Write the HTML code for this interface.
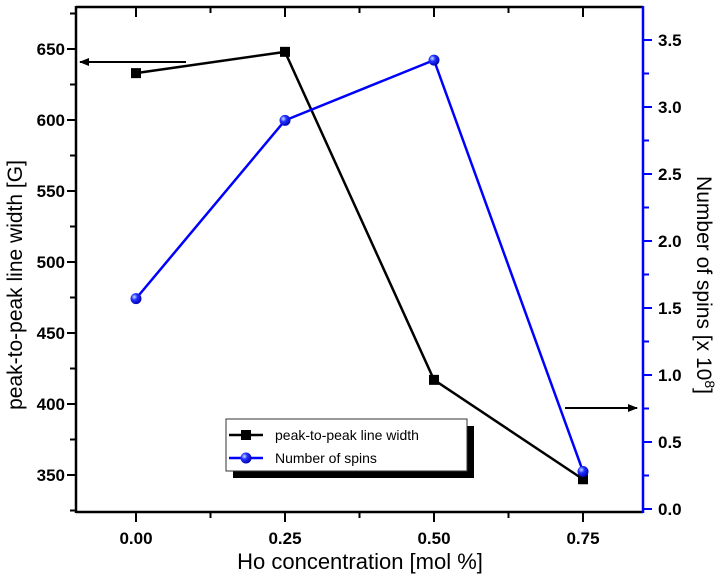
<!DOCTYPE html>
<html><head><meta charset="utf-8"><style>
html,body{margin:0;padding:0;background:#fff;}
svg{display:block;font-family:"Liberation Sans",Arial,sans-serif;}
</style></head><body>
<svg id="chart" width="724" height="575" viewBox="0 0 724 575">
<g id="g"></g>
</svg>
<script>
const categories = [0.00, 0.25, 0.50, 0.75];
const lineWidthValues = [633, 648, 417, 347];
const spinValues = [1.57, 2.90, 3.35, 0.28];
const xTickLabels = ["0.00", "0.25", "0.50", "0.75"];
const leftTickLabels = ["350", "400", "450", "500", "550", "600", "650"];
const rightTickLabels = ["0.0", "0.5", "1.0", "1.5", "2.0", "2.5", "3.0", "3.5"];

const NS = "http://www.w3.org/2000/svg";
const g = document.getElementById("g");
const L = 76, R = 643, T = 7, B = 512;
function xs(v){ return 136 + v * 596; }
function yl(v){ return 49 + (650 - v) * 1.42; }
function yr(v){ return 509 - v * 134; }
function mk(tag, attrs, parent){
  const e = document.createElementNS(NS, tag);
  for (const k in attrs) e.setAttribute(k, attrs[k]);
  (parent || g).appendChild(e);
  return e;
}
const defs = mk("defs", {});
const grad = mk("radialGradient", {id:"ball", cx:"0.35", cy:"0.35", r:"0.7"}, defs);
mk("stop", {offset:"0", "stop-color":"#cfe0ff"}, grad);
mk("stop", {offset:"0.4", "stop-color":"#2030ff"}, grad);
mk("stop", {offset:"1", "stop-color":"#0000b0"}, grad);
const mark = mk("marker", {id:"ah", markerWidth:"10", markerHeight:"8", refX:"9", refY:"4", orient:"auto", markerUnits:"userSpaceOnUse"}, defs);
mk("path", {d:"M0,0 L10,4 L0,8 z", fill:"#000"}, mark);

let e;
e = mk("line", {x1:L, y1:T, x2:R, y2:T, stroke:"#000", "stroke-width":2.5});


e = mk("line", {x1:L, y1:B, x2:R, y2:B, stroke:"#000", "stroke-width":2.5});


e = mk("line", {x1:L, y1:T-1, x2:L, y2:B+1, stroke:"#000", "stroke-width":2.5});


e = mk("line", {x1:R, y1:T-1, x2:R, y2:B+1, stroke:"#00f", "stroke-width":2.5});



categories.forEach((c, i) => {
  const x = xs(c);
  mk("line", {x1:x, y1:B, x2:x, y2:B+10, stroke:"#000", "stroke-width":2});
  mk("line", {x1:x, y1:T, x2:x, y2:T+10, stroke:"#000", "stroke-width":2});
  const t = mk("text", {x:x, y:544, "text-anchor":"middle", "font-size":17, "font-weight":"bold"});
  t.textContent = xTickLabels[i];
  
  
  const xm = xs(c + 0.125);
  if (xm < R) {
    mk("line", {x1:xm, y1:B, x2:xm, y2:B+6, stroke:"#000", "stroke-width":2});
    mk("line", {x1:xm, y1:T, x2:xm, y2:T+6, stroke:"#000", "stroke-width":2});
  }
});
leftTickLabels.forEach(lbl => {
  const v = parseFloat(lbl), y = yl(v);
  mk("line", {x1:L-9, y1:y, x2:L, y2:y, stroke:"#000", "stroke-width":2});
  const ym = yl(v + 25);
  if (ym > T) mk("line", {x1:L-6, y1:ym, x2:L, y2:ym, stroke:"#000", "stroke-width":2});
  const t = mk("text", {x:L-11, y:y+6, "text-anchor":"end", "font-size":17, "font-weight":"bold"});
  t.textContent = lbl;
  
  
});
mk("line", {x1:L-6, y1:yl(325), x2:L, y2:yl(325), stroke:"#000", "stroke-width":2});
rightTickLabels.forEach(lbl => {
  const v = parseFloat(lbl), y = yr(v);
  mk("line", {x1:R, y1:y, x2:R+9, y2:y, stroke:"#00f", "stroke-width":2});
  const ym = yr(v + 0.25);
  if (ym > T) mk("line", {x1:R, y1:ym, x2:R+6, y2:ym, stroke:"#00f", "stroke-width":2});
  const t = mk("text", {x:R+15, y:y+6, "text-anchor":"start", "font-size":17, "font-weight":"bold"});
  t.textContent = lbl;
  
  
});

e = mk("text", {x:0, y:0, "text-anchor":"middle", "font-size":21, transform:"translate(22,285) rotate(-90)"});
e.textContent = "peak-to-peak line width [G]";


e = mk("text", {x:0, y:0, "text-anchor":"middle", "font-size":21, transform:"translate(697,285) rotate(90)"});
e.innerHTML = 'Number of spins [x 10<tspan dy="-8" font-size="14">8</tspan><tspan dy="8">]</tspan>';


e = mk("text", {x:360, y:569, "text-anchor":"middle", "font-size":22});
e.textContent = "Ho concentration [mol %]";



e = mk("polyline", {points: categories.map((c,i)=>xs(c)+","+yl(lineWidthValues[i])).join(" "), fill:"none", stroke:"#000", "stroke-width":2.5});


e = mk("polyline", {points: categories.map((c,i)=>xs(c)+","+yr(spinValues[i])).join(" "), fill:"none", stroke:"#00f", "stroke-width":2.5});


categories.forEach((c,i)=>{
  const p = mk("rect", {x:xs(c)-5, y:yl(lineWidthValues[i])-5, width:10, height:10, fill:"#000"});
  
  
});
categories.forEach((c,i)=>{
  const p = mk("circle", {cx:xs(c), cy:yr(spinValues[i]), r:5.5, fill:"url(#ball)"});
  
  
});

e = mk("line", {x1:186, y1:62, x2:80, y2:62, stroke:"#000", "stroke-width":2, "marker-end":"url(#ah)"});


e = mk("line", {x1:565, y1:408, x2:637, y2:408, stroke:"#000", "stroke-width":2, "marker-end":"url(#ah)"});



const lg = mk("g", {});


mk("rect", {x:233, y:426, width:241, height:52, fill:"#000"}, lg);
mk("rect", {x:226, y:419, width:241, height:52, fill:"#fff", stroke:"#333", "stroke-width":1}, lg);
mk("line", {x1:229, y1:435, x2:263, y2:435, stroke:"#000", "stroke-width":2.5}, lg);
mk("rect", {x:241, y:430, width:10, height:10, fill:"#000"}, lg);
mk("line", {x1:229, y1:458, x2:263, y2:458, stroke:"#00f", "stroke-width":2.5}, lg);
mk("circle", {cx:246, cy:458, r:5.5, fill:"url(#ball)"}, lg);
e = mk("text", {x:275, y:440, "font-size":14}, lg);
e.textContent = "peak-to-peak line width";


e = mk("text", {x:275, y:463, "font-size":14}, lg);
e.textContent = "Number of spins";


</script>
</body></html>
